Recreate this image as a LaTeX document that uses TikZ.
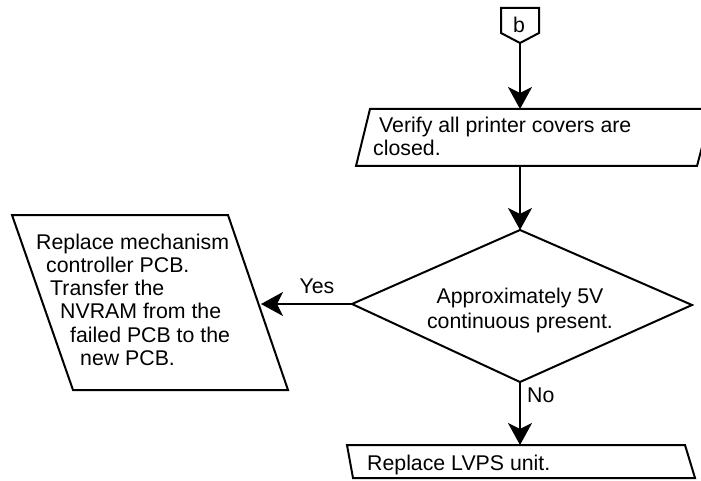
\documentclass[tikz,border=0pt]{standalone}
\usepackage{fontspec}
\setmainfont{Liberation Sans}
\usetikzlibrary{arrows.meta}
\begin{document}
\begin{tikzpicture}[x=1pt,y=-1pt,
  outline/.style={draw, line width=2pt, line join=miter},
  arr/.style={-{Stealth[length=22pt,width=24pt,inset=6pt]}, line width=2pt},
  txt/.style={inner sep=0pt, font=\fontsize{21.3}{23.3}\selectfont, align=left},
  lbl/.style={inner sep=0pt, font=\fontsize{21.3}{25}\selectfont}]
\clip (0,0) rectangle (701,481);
% off-page connector b
\draw[outline] (501,8) -- (539,8) -- (539,33) -- (520,43) -- (501,33) -- cycle;
\node[lbl, anchor=base] (b) at (519,33) {b};
\coordinate (bs) at (520,43);
% verify box
\draw[outline] (370,109) -- (712,109) -- (697,166) -- (356,166) -- cycle;
\node[txt, anchor=base west] (verify) at (373,156) {\hspace*{6pt}Verify all printer covers are\\closed.};
\coordinate (vt) at (520,109);
\coordinate (vb) at (520,166);
% decision
\coordinate (dt) at (520,230);
\coordinate (dl) at (352,304);
\coordinate (dr) at (692,305);
\coordinate (db) at (520,382);
\draw[outline] (dt) -- (dr) -- (db) -- (dl) -- cycle;
\node[lbl, align=center, anchor=base] (dec) at (520,328) {Approximately 5V\\continuous present.};
% left box
\draw[outline] (12,215) -- (228,215) -- (288,390) -- (73,390) -- cycle;
\node[txt, anchor=base west] (mech) at (36,365.5) {Replace mechanism\\\hspace*{10pt}controller PCB.\\\hspace*{14pt}Transfer the\\\hspace*{24pt}NVRAM from the\\\hspace*{34pt}failed PCB to the\\\hspace*{44pt}new PCB.};
\coordinate (lr) at (261,304);
% LVPS box
\draw[outline] (347,445) -- (685,445) -- (695,478) -- (353,478) -- cycle;
\node[txt, anchor=base west] (lvps) at (367,470) {Replace LVPS unit.};
\coordinate (lt) at (520,445);
% connectors
\draw[arr] (bs) -- (vt);
\draw[arr] (vb) -- (dt);
\draw[arr] (dl) -- (lr);
\draw[arr] (db) -- (lt);
\node[lbl, anchor=base] (yes) at (317,293) {Yes};
\node[lbl, anchor=base west] (no) at (527,402) {No};
\end{tikzpicture}
\end{document}
